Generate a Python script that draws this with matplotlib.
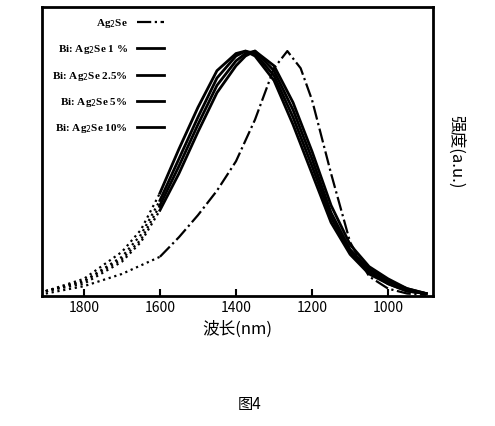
import matplotlib
matplotlib.use("Agg")
import matplotlib.pyplot as plt

plt.rcParams['font.family'] = ['Noto Sans CJK SC', 'DejaVu Sans']

# 波长 (nm) 与强度 (a.u.)
wl_ag2se = [1900, 1800, 1700, 1600, 1550, 1500, 1450, 1400, 1350, 1300, 1265, 1230, 1200, 1150, 1100, 1050, 1000, 950, 900]
in_ag2se = [0.01, 0.04, 0.09, 0.16, 0.24, 0.33, 0.43, 0.55, 0.72, 0.93, 1.0, 0.93, 0.8, 0.5, 0.22, 0.08, 0.03, 0.01, 0.005]

wl_bi = [1900, 1800, 1700, 1650, 1600, 1550, 1500, 1450, 1400, 1375, 1350, 1300, 1250, 1200, 1150, 1100, 1050, 1000, 950, 900]
in_bi = {
    "Bi: Ag$_2$Se 1 %":   [0.02, 0.07, 0.18, 0.27, 0.42, 0.60, 0.77, 0.92, 0.99, 1.0, 0.98, 0.88, 0.70, 0.50, 0.30, 0.17, 0.09, 0.05, 0.02, 0.01],
    "Bi: Ag$_2$Se 2.5%":  [0.02, 0.06, 0.16, 0.25, 0.39, 0.56, 0.73, 0.89, 0.98, 1.0, 0.99, 0.90, 0.73, 0.53, 0.32, 0.18, 0.10, 0.05, 0.02, 0.01],
    "Bi: Ag$_2$Se 5%":    [0.02, 0.06, 0.15, 0.23, 0.37, 0.53, 0.70, 0.86, 0.96, 0.99, 1.0, 0.92, 0.76, 0.56, 0.34, 0.19, 0.11, 0.06, 0.03, 0.01],
    "Bi: Ag$_2$Se 10%":   [0.02, 0.05, 0.14, 0.22, 0.35, 0.50, 0.67, 0.83, 0.94, 0.98, 1.0, 0.94, 0.79, 0.59, 0.37, 0.21, 0.12, 0.07, 0.03, 0.01],
}

fig = plt.figure(figsize=(4.95, 4.26), dpi=100)
ax = fig.add_axes([42/495, 1 - 296/426, (433-42)/495, (296-7)/426])

def split(wl, iv, cut=1600):
    a = [(w, v) for w, v in zip(wl, iv) if w >= cut]
    b = [(w, v) for w, v in zip(wl, iv) if w <= cut]
    return list(zip(*a)), list(zip(*b))

(l1, l2) = split(wl_ag2se, in_ag2se)
ax.plot(l1[0], l1[1], color='black', lw=1.6, ls=':')
ax.plot(l2[0], l2[1], color='black', lw=1.6, ls='-.', label="Ag$_2$Se")
for name, iv in in_bi.items():
    a, b = split(wl_bi, iv)
    ax.plot(a[0], a[1], color='black', lw=1.6, ls=':')
    ax.plot(b[0], b[1], color='black', lw=2, ls='-', label=name)

ax.set_xlim(1910, 882)
ax.set_ylim(0, 1.18)
ax.set_xticks([1800, 1600, 1400, 1200, 1000])
ax.set_yticks([])
ax.tick_params(axis='x', direction='in', length=5, width=1.5, labelsize=10)
for s in ax.spines.values():
    s.set_linewidth(2)
ax.set_xlabel("波长(nm)", fontsize=12)
ax.yaxis.set_label_position('right')
ax.set_ylabel("强度(a.u.)", fontsize=12, rotation=-90, labelpad=22)

leg = ax.legend(loc='upper left', bbox_to_anchor=(0.0, 1.0), frameon=False, handlelength=2.5,
                labelspacing=1.2, markerfirst=False,
                prop={'family': 'Liberation Serif', 'size': 8, 'weight': 'bold'})

fig.text(250/495, 1 - 405/426, "图4", ha='center', va='center', fontsize=11)
fig.savefig("out.png", dpi=100)
